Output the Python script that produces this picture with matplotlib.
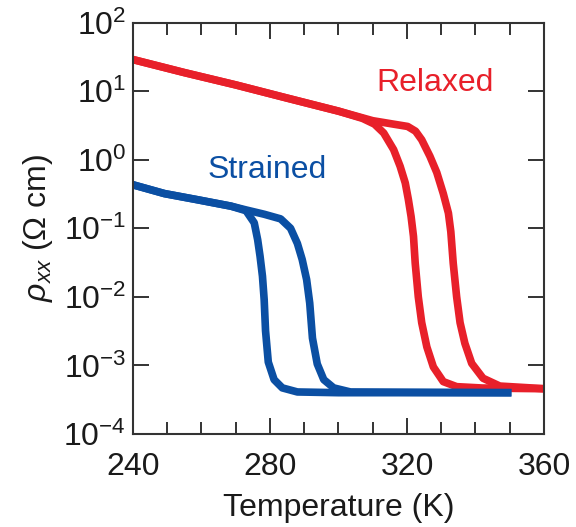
import numpy as np
from matplotlib import pyplot as plt

plt.rcParams['font.family'] = ['Liberation Sans', 'DejaVu Sans']
plt.rcParams['mathtext.fontset'] = 'custom'
plt.rcParams['mathtext.rm'] = 'Liberation Sans'
plt.rcParams['mathtext.it'] = 'Liberation Sans:italic'
plt.rcParams['mathtext.default'] = 'regular'

# Relaxed film, cooling branch (lower Tc)
t_relax_cool = [240, 255, 270, 285, 300, 307, 310.5, 313.2, 316.1, 318.0, 319.5, 320.4, 321.2,
                321.9, 322.4, 323.3, 324.3, 325.8, 327.7, 330.6, 334.5, 342, 360]
rho_relax_cool = [28.8, 18.6, 12.3, 7.9, 5.1, 4.0, 3.3, 2.45, 1.40, 0.80, 0.457, 0.263, 0.148,
                  0.076, 0.031, 0.010, 0.0042, 0.00186, 0.00095, 0.00058, 0.00049, 0.000468,
                  0.000457]

# Relaxed film, warming branch
t_relax_warm = [240, 255, 270, 285, 300, 310, 316, 320.2, 322.5, 324.3, 326.7, 328.7, 330.6,
                332.1, 332.8, 333.5, 334.5, 335.5, 336.9, 338.9, 342.2, 347.1, 356.7, 360]
rho_relax_warm = [28.8, 18.6, 12.3, 7.9, 5.1, 3.7, 3.3, 3.05, 2.6, 1.95, 1.12, 0.65, 0.32,
                  0.166, 0.089, 0.031, 0.010, 0.0042, 0.0021, 0.00107, 0.00065, 0.0005,
                  0.000468, 0.000457]

# Strained film, cooling branch
t_str_cool = [240, 249.2, 258.9, 268.6, 273.0, 275.4, 276.4, 277.1, 277.8, 278.3, 278.7,
              279.5, 281.2, 283.6, 288, 300, 350.5]
rho_str_cool = [0.43, 0.32, 0.26, 0.21, 0.18, 0.12, 0.068, 0.039, 0.020, 0.0091, 0.0032,
                0.00112, 0.00062, 0.00047, 0.00041, 0.0004, 0.0004]

# Strained film, warming branch
t_str_warm = [240, 249.2, 258.9, 268.6, 273.0, 278.3, 283.1, 286.0, 288.0, 289.4, 290.7,
              291.6, 292.4, 293.8, 295.7, 298.6, 303.5, 350.5]
rho_str_warm = [0.43, 0.32, 0.26, 0.21, 0.185, 0.16, 0.137, 0.10, 0.060, 0.035, 0.0178,
                0.0081, 0.0025, 0.00105, 0.00062, 0.00047, 0.00041, 0.0004]

red = '#e8202a'
blue = '#0b4fa3'
frame = '#333333'

fig = plt.figure(figsize=(5.76, 5.27), dpi=100)
ax = fig.add_axes([0.2309, 0.1765, 0.9444 - 0.2309, 0.9573 - 0.1765])

for t, r in [(t_relax_cool, rho_relax_cool), (t_relax_warm, rho_relax_warm)]:
    ax.plot(t, r, color=red, lw=5.5, solid_capstyle='butt', solid_joinstyle='round')
for t, r in [(t_str_cool, rho_str_cool), (t_str_warm, rho_str_warm)]:
    ax.plot(t, r, color=blue, lw=5.5, solid_capstyle='butt', solid_joinstyle='round')

ax.set_yscale('log')
ax.set_xlim(240, 360)
ax.set_ylim(1e-4, 1e2)
ax.set_xticks([240, 280, 320, 360])
ax.set_xticks(np.arange(250, 360, 10), minor=True)
ax.set_yticks([1e-4, 1e-3, 1e-2, 1e-1, 1e0, 1e1, 1e2])
ax.yaxis.set_minor_locator(plt.NullLocator())

ax.tick_params(axis='both', which='both', direction='in', top=True, right=True,
               color=frame, width=1.4, labelsize=23, labelcolor='#1a1a1a')
ax.tick_params(axis='both', which='major', length=11.5)
ax.tick_params(axis='x', which='minor', length=8.5)
ax.tick_params(axis='x', which='major', pad=13)
ax.tick_params(axis='y', which='major', pad=5)
for s in ax.spines.values():
    s.set_color(frame)
    s.set_linewidth(1.5)

ax.set_xlabel('Temperature (K)', fontsize=23, color='#1a1a1a', labelpad=8)
ax.set_ylabel(r'$\it{\rho}_{\it{xx}}$ ($\Omega$ cm)', fontsize=23, color='#1a1a1a', labelpad=6)

ax.text(328.2, 13.2, 'Relaxed', color=red, fontsize=23, ha='center', va='center')
ax.text(279.2, 0.71, 'Strained', color=blue, fontsize=23, ha='center', va='center')

fig.savefig('out.png', dpi=100)
